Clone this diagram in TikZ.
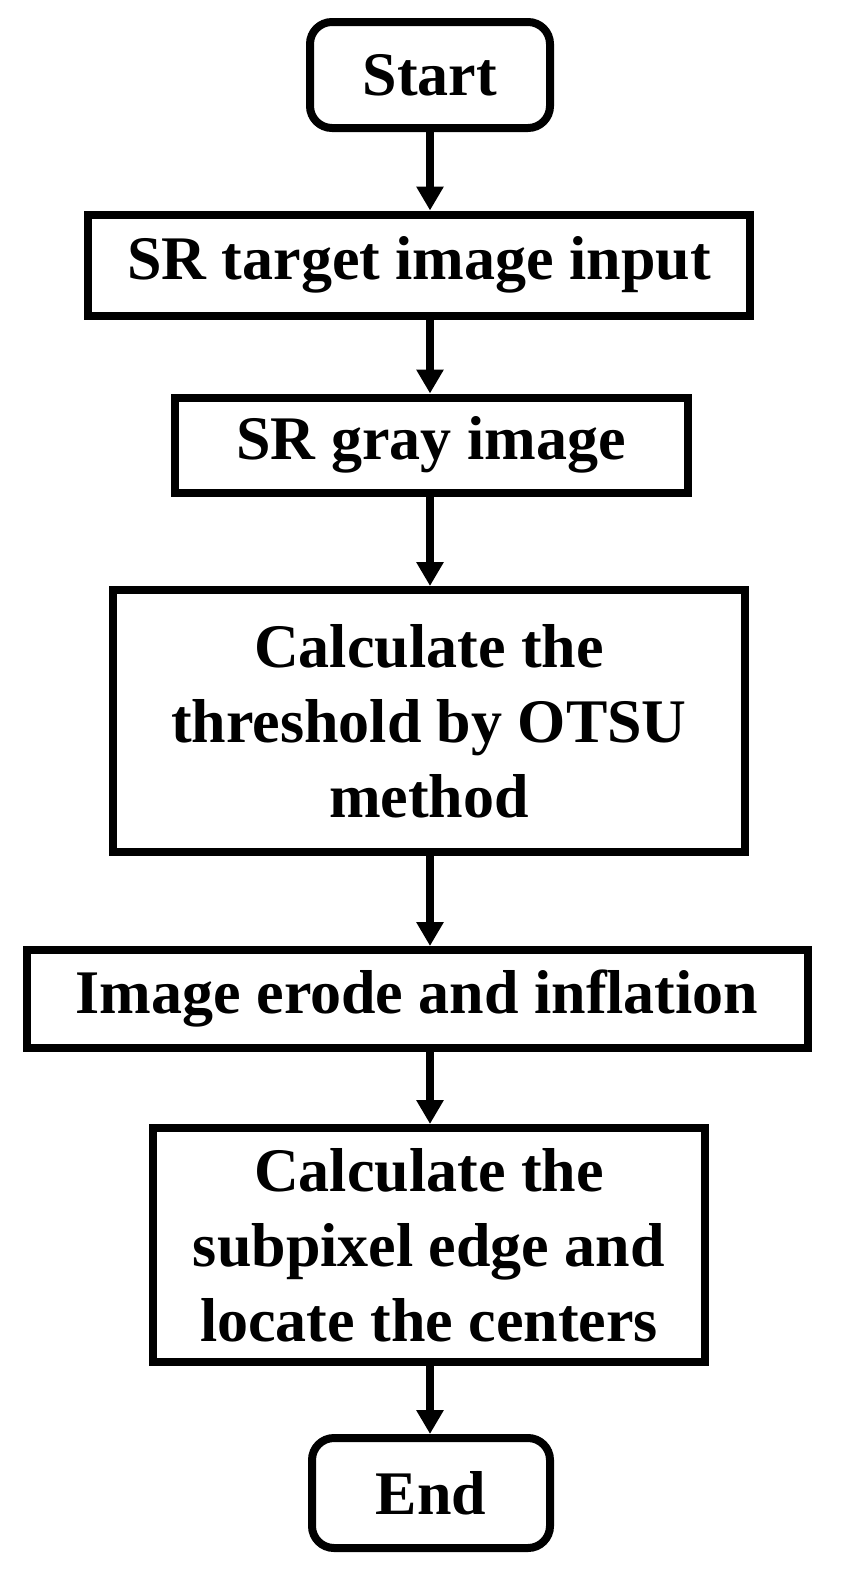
\documentclass[tikz,border=0pt]{standalone}
\usepackage{fontspec}
\setmainfont{Liberation Serif}
\usetikzlibrary{arrows.meta}
\begin{document}
\begin{tikzpicture}[x=1pt,y=1pt,
  box/.style={draw,line width=8pt,inner sep=0pt,align=center,font=\bfseries\fontsize{62}{75}\selectfont},
  term/.style={box,rounded corners=22pt},
  arr/.style={line width=8pt,-{Triangle[length=24pt,width=26pt]}}]
\useasboundingbox (0,0) rectangle (864,-1582);
\node[term,minimum width=240pt,minimum height=106pt] (s) at (430,-75) {Start};
\node[box,minimum width=662pt,minimum height=101pt] (a) at (419,-265) {SR target image input};
\node[box,minimum width=513pt,minimum height=95pt] (b) at (431,-445) {SR gray image};
\node[box,minimum width=632pt,minimum height=262pt] (c) at (429,-721) {Calculate the\\threshold by OTSU\\method};
\node[box,minimum width=781pt,minimum height=98pt] (d) at (417,-999) {Image erode and inflation};
\node[box,minimum width=552pt,minimum height=234pt] (e) at (429,-1245) {Calculate the\\subpixel edge and\\locate the centers};
\node[term,minimum width=238pt,minimum height=110pt] (f) at (431,-1493) {End};
\coordinate (x) at (430,0);
\draw[arr] (x|-s.south) -- (x|-a.north);
\draw[arr] (x|-a.south) -- (x|-b.north);
\draw[arr] (x|-b.south) -- (x|-c.north);
\draw[arr] (x|-c.south) -- (x|-d.north);
\draw[arr] (x|-d.south) -- (x|-e.north);
\draw[arr] (x|-e.south) -- (x|-f.north);
\end{tikzpicture}
\end{document}
